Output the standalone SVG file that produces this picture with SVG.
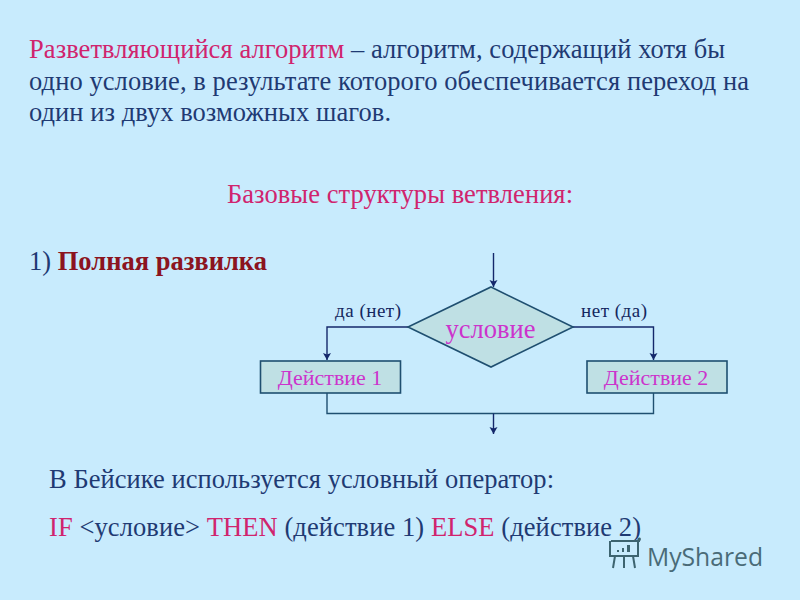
<svg xmlns="http://www.w3.org/2000/svg" width="800" height="600" viewBox="0 0 800 600">
<style>
text{font-family:"Liberation Serif","Times New Roman",serif;fill:#1f3a73}
.t{font-size:26.500px}
.r{fill:#d0246e}
.m{fill:#cc33cc}
.l{font-size:19px;fill:#14285f}
.a{font-size:22px;fill:#cc33cc;text-anchor:middle}
.s{fill:#bfe0e4;stroke:#1f4f70;stroke-width:1.6}
.c{fill:none;stroke:#1f4f70;stroke-width:1.4}
.ar{fill:none;stroke:#14286b;stroke-width:1.4;marker-end:url(#h)}
</style>
<defs>
<marker id="h" markerUnits="userSpaceOnUse" markerWidth="8" markerHeight="9" refX="7" refY="4" orient="auto"><path d="M0 0L7 4L0 8L1.500 4Z" fill="#14286b"/></marker>
</defs>
<rect width="800" height="600" fill="#c8ebfd"/>
<g id="intro">
<text class="t" x="29" y="58" textLength="696" lengthAdjust="spacing"><tspan class="r">Разветвляющийся алгоритм </tspan>– алгоритм, содержащий хотя бы</text>
<text class="t" x="29" y="90" textLength="720" lengthAdjust="spacing">одно условие, в результате которого обеспечивается переход на</text>
<text class="t" x="29" y="121" textLength="362" lengthAdjust="spacing">один из двух возможных шагов.</text>
</g>
<text class="t r" x="227" y="203" textLength="346" lengthAdjust="spacing">Базовые структуры ветвления:</text>
<text class="t" x="29" y="270" textLength="238" lengthAdjust="spacing">1) <tspan font-weight="bold" style="fill:#8b1420">Полная развилка</tspan></text>
<g id="connectors">
<path class="ar" d="M493.500 253V287"/>
<path class="ar" d="M408 327H327V360"/>
<path class="ar" d="M573 327H653.500V360"/>
<path class="c" d="M327 393V413.500H653.500V393"/>
<path class="ar" d="M493.500 413.500V434"/>
</g>
<g id="decision">
<polygon class="s" points="491,287 573,327 491,367 408,327"/>
<text class="a" style="font-size:26.500px" x="490.500" y="338">условие</text>
</g>
<g id="action1">
<rect class="s" x="260.500" y="361" width="140" height="32"/>
<text class="a" x="330" y="385">Действие 1</text>
</g>
<g id="action2">
<rect class="s" x="587" y="361" width="140" height="32"/>
<text class="a" x="656" y="385">Действие 2</text>
</g>
<text class="l" x="335" y="317" textLength="66">да (нет)</text>
<text class="l" x="581" y="317" textLength="66">нет (да)</text>
<text class="t" x="49" y="488" textLength="505" lengthAdjust="spacing">В Бейсике используется условный оператор:</text>
<text class="t" x="49" y="536" textLength="592" lengthAdjust="spacing"><tspan class="r">IF </tspan>&lt;условие&gt; <tspan class="r">THEN </tspan>(действие 1) <tspan class="r">ELSE </tspan>(действие 2)</text>
<g id="watermark">
<path d="M611 541H640M610 541V556H638V541M610 541V549M638 541C641 541 640 536 638 540M615 556L613 568M624 556V568M633 556L635 568" fill="none" stroke="#3d6470" stroke-width="2"/>
<path d="M617 552h2v-2h-2zM622 552h2v-4h-2zM627 552h3v-7h-3z" fill="#3d6470"/>
<text x="647" y="566" textLength="116" lengthAdjust="spacingAndGlyphs" style="font-family:'Open Sans','Noto Sans',sans-serif;font-size:26px;fill:#4a6b78">MyShared</text>
</g>
</svg>
